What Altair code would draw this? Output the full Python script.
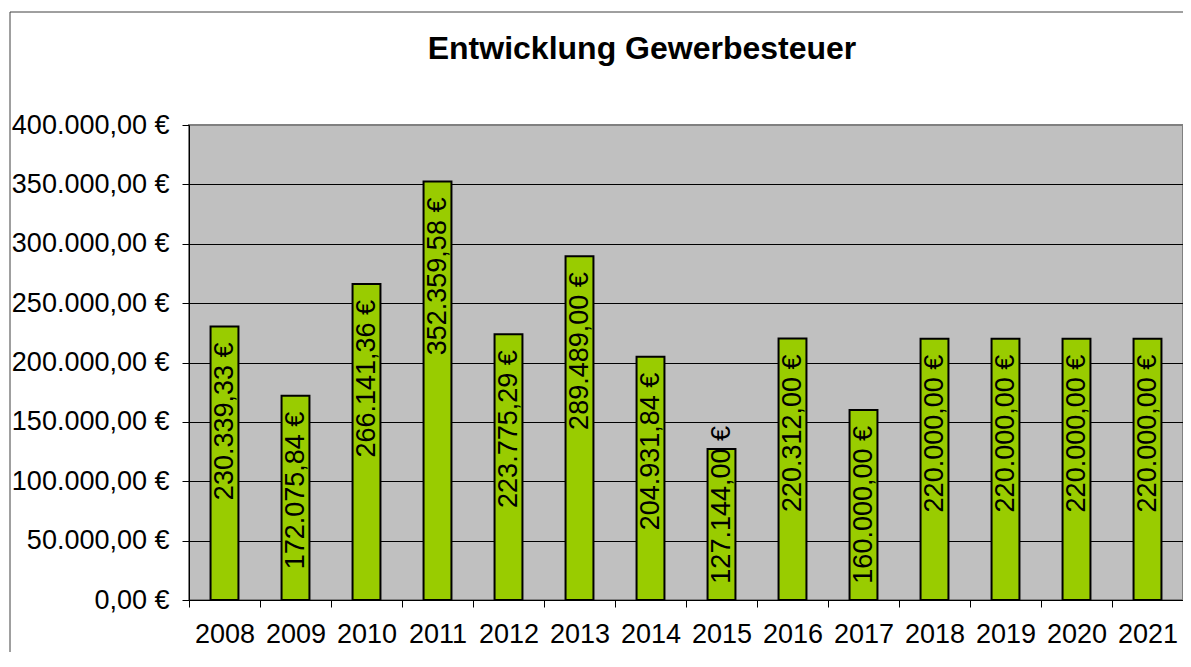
import altair as alt
import pandas as pd

years = ["2008", "2009", "2010", "2011", "2012", "2013", "2014",
         "2015", "2016", "2017", "2018", "2019", "2020", "2021"]
values = [230339.33, 172075.84, 266141.36, 352359.58, 223775.29, 289489.00,
          204931.84, 127144.00, 220312.00, 160000.00, 220000.00, 220000.00,
          220000.00, 220000.00]
y_ticks = [0, 50000, 100000, 150000, 200000, 250000, 300000, 350000, 400000]


def de_eur(v):
    s = f"{v:,.2f}"
    s = s.replace(",", "_").replace(".", ",").replace("_", ".")
    return s + " €"


df = pd.DataFrame({"year": years, "value": values,
                   "label": [de_eur(v) for v in values]})

FONT = "Liberation Sans"

label_expr = ("replace(replace(replace(format(datum.value, ',.2f'), regexp(',', 'g'), '_'), "
              "'.', ','), regexp('_', 'g'), '.') + ' €'")

x_enc = alt.X(
    "year:O", sort=years,
    scale=alt.Scale(paddingInner=0, paddingOuter=0),
    axis=alt.Axis(title=None, labelAngle=0, labelFont=FONT, labelFontSize=27,
                  labelColor="black", tickBand="extent", tickSize=7,
                  tickColor="black", domainColor="black", domainWidth=1,
                  labelPadding=14, grid=False),
)
y_enc = alt.Y(
    "value:Q",
    scale=alt.Scale(domain=[0, 400000], nice=False),
    axis=alt.Axis(title=None, values=y_ticks, labelExpr=label_expr,
                  labelFont=FONT, labelFontSize=27, labelColor="black",
                  tickSize=7, tickColor="black", domainColor="black",
                  domainWidth=1, labelPadding=13, grid=True, gridWidth=1,
                  gridColor={"condition": {"test": "datum.value >= 400000",
                                           "value": "#808080"},
                             "value": "black"}),
)

border = alt.Chart(pd.DataFrame({"a": [0]})).mark_rect(
    fillOpacity=0, stroke="#404040", strokeWidth=1
).encode(
    x=alt.value(-179), x2=alt.value(1010),
    y=alt.value(-113), y2=alt.value(560),
)

title = alt.Chart(pd.DataFrame({"t": ["Entwicklung Gewerbesteuer"]})).mark_text(
    font=FONT, fontSize=32, fontWeight="bold", color="black",
    align="center", baseline="alphabetic",
).encode(x=alt.value(453), y=alt.value(-66), text="t:N")

bars = alt.Chart(df).mark_bar(
    color="#99CC00", stroke="black", strokeWidth=2,
    width=alt.RelativeBandSize(0.393),
).encode(x=x_enc, y=y_enc)

text = alt.Chart(df).transform_calculate(
    labelpos="max(datum.value, 160000)"
).mark_text(
    angle=270, align="right", baseline="middle", dx=-16,
    font=FONT, fontSize=27, color="black",
).encode(
    x=alt.X("year:O", sort=years),
    y=alt.Y("labelpos:Q"),
    text="label:N",
)

chart = alt.layer(border, title, bars, text).properties(
    width=994, height=475,
    padding={"left": 181, "top": 117, "right": 0, "bottom": 52},
    autosize=alt.AutoSizeParams(type="none"),
    background="white",
).configure_view(
    stroke="#808080", strokeWidth=2, fill="#C0C0C0"
)

chart.save("out.html", embed_options={"renderer": "svg", "actions": False})
